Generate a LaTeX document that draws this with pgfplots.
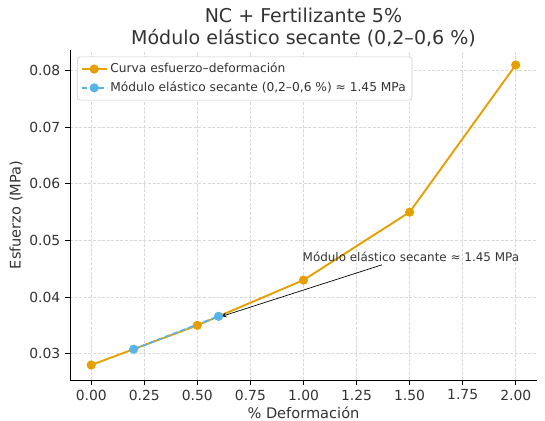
\documentclass[border=0pt]{standalone}
\usepackage{fontspec}
\setmainfont{DejaVu Sans}
\usepackage{pgfplots}
\pgfplotsset{compat=1.18}
\definecolor{curveorange}{HTML}{E69F00}
\definecolor{secblue}{HTML}{56B4E9}
\definecolor{txt}{HTML}{333333}
\definecolor{gridc}{HTML}{D9D9D9}
\definecolor{legc}{HTML}{CCCCCC}
\pgfplotstableread{
x y
0.0 0.028
0.5 0.035
1.0 0.043
1.5 0.055
2.0 0.081
}\curvedata
\pgfplotstableread{
x y
0.2 0.0308
0.6 0.0366
}\secdata
\begin{document}
\begin{tikzpicture}[x=1pt,y=1pt]
\useasboundingbox (-50.4pt,-29.5pt) rectangle (342pt,273.6pt);
\begin{axis}[
  at={(0,0)}, anchor=south west,
  scale only axis,
  width=336.2pt, height=237.6pt,
  xmin=-0.1, xmax=2.1,
  ymin=0.02535, ymax=0.08365,
  axis lines*=left,
  axis line style={black, line width=0.6pt},
  xtick={0,0.25,...,2.0},
  ytick={0.03,0.04,...,0.081},
  tick align=outside,
  major tick length=3.5pt,
  tick style={black, line width=0.6pt},
  /pgf/number format/assume math mode=true,
  xticklabel style={/pgf/number format/.cd, fixed, fixed zerofill, precision=2},
  yticklabel style={/pgf/number format/.cd, fixed, fixed zerofill, precision=2},
  scaled y ticks=false,
  scaled x ticks=false,
  ticklabel style={font=\fontsize{10}{12}\selectfont, text=txt},
  grid=major,
  grid style={gridc, line width=0.6pt, dash pattern=on 2.2pt off 1.1pt},
  xlabel={\% Deformación},
  ylabel={Esfuerzo (MPa)},
  label style={font=\fontsize{10.5}{12}\selectfont, text=txt},
  xlabel style={yshift=2pt},
  ylabel style={yshift=-2pt},
  title={NC + Fertilizante 5\%\\Módulo elástico secante (0,2–0,6 \%)},
  title style={align=center, font=\fontsize{13.7}{16}\selectfont, text=txt, yshift=-7.5pt},
  legend style={font=\fontsize{8.8}{10.5}\selectfont, text=txt, draw=legc, rounded corners=2pt, at={(0.015,0.98)}, anchor=north west, inner sep=2.5pt, row sep=1pt},
  legend image code/.code={\draw[#1] (0pt,0pt) -- (9pt,0pt) -- (18pt,0pt); \draw[#1, mark repeat=2, mark phase=2] plot coordinates {(0pt,0pt) (9pt,0pt) (18pt,0pt)};},
  legend cell align=left,
]
\addplot[curveorange, line width=1.35pt, mark=*, mark size=2.6pt, mark options={solid, fill=curveorange, draw=curveorange}] table[x=x,y=y] {\curvedata};
\addlegendentry{Curva esfuerzo–deformación}
\addplot[secblue, line width=1.35pt, dashed, dash pattern=on 4pt off 2pt, mark=*, mark size=2.6pt, mark options={solid, fill=secblue, draw=secblue}] table[x=x,y=y] {\secdata};
\addlegendentry{Módulo elástico secante (0,2–0,6 \%) ≈ 1.45 MPa}
\draw[-stealth, black, line width=0.5pt] (axis cs:1.37,0.0457) -- (axis cs:0.615,0.0366);
\node[anchor=west, inner sep=0pt, text=txt, font=\fontsize{8.6}{10}\selectfont] at (axis cs:0.995,0.0472) {Módulo elástico secante ≈ 1.45 MPa};
\end{axis}
\end{tikzpicture}
\end{document}
